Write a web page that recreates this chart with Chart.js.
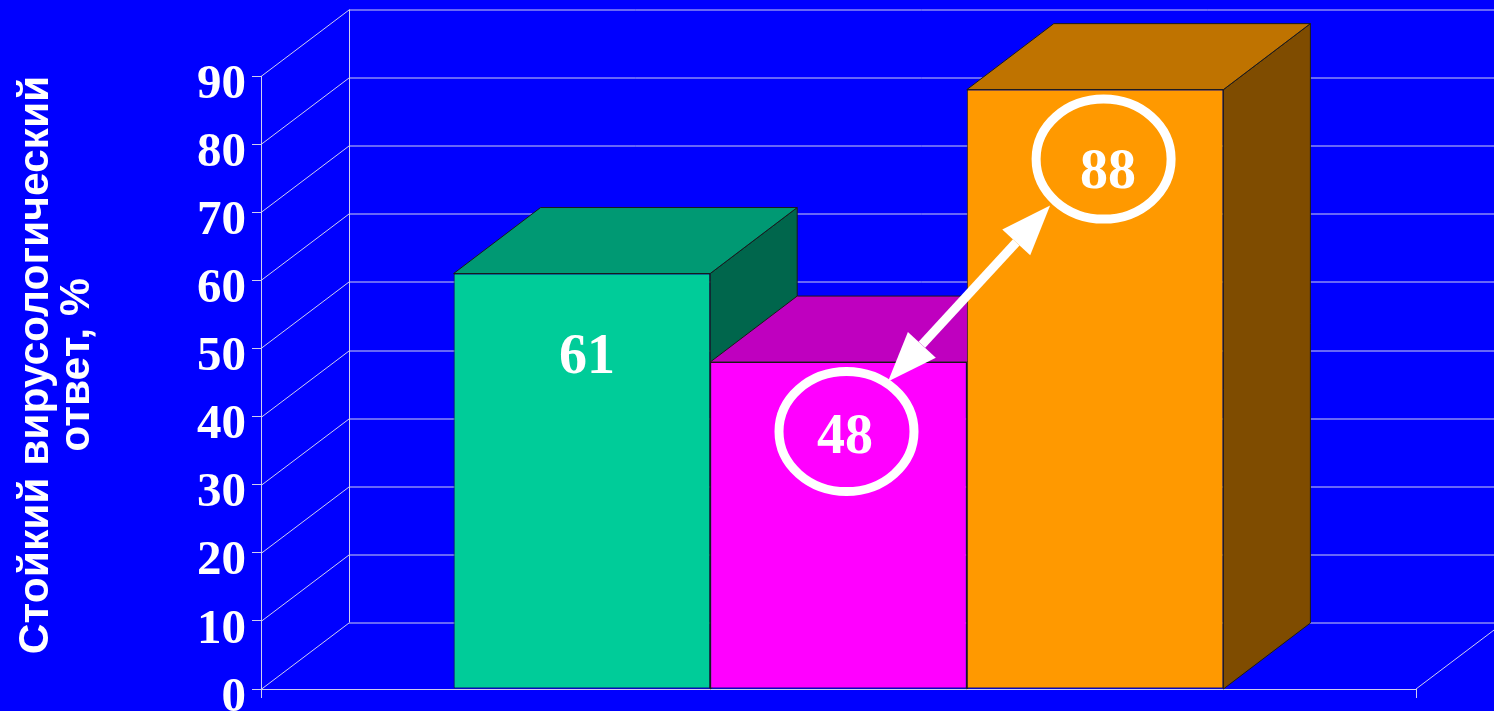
<!DOCTYPE html>
<html lang="ru">
<head>
<meta charset="utf-8">
<title>Стойкий вирусологический ответ</title>
<script src="https://cdn.jsdelivr.net/npm/chart.js@4"></script>
<style>
  html, body { margin: 0; padding: 0; background: #0000ff; overflow: hidden; }
  #wrap { width: 1494px; height: 711px; }
</style>
</head>
<body>
<div id="wrap"><canvas id="svrChart"></canvas></div>
<script>
const categories = [''];
const svrValues = [61, 48, 88];
const yTicks = [0, 10, 20, 30, 40, 50, 60, 70, 80, 90];
const titleLines = ['Стойкий вирусологический', 'ответ, %'];
const frontColors = ['#00cc99', '#ff00ff', '#ff9900'];
const topColors = ['#009973', '#bf00bf', '#bf7300'];
const sideColors = ['#00664c', '#7f007f', '#7f4c00'];

const DEPTH_X = 87, DEPTH_Y = 66;
const GRID = '#cfcfef', EDGE = '#1a1a1a';

function poly(ctx, pts, fill, stroke) {
  ctx.beginPath();
  pts.forEach((p, i) => i ? ctx.lineTo(p[0], p[1]) : ctx.moveTo(p[0], p[1]));
  ctx.closePath();
  if (fill) { ctx.fillStyle = fill; ctx.fill(); }
  if (stroke) { ctx.strokeStyle = stroke; ctx.lineWidth = 1; ctx.stroke(); }
}

// back wall and left wall of the 3D box
const wallsPlugin = {
  id: 'walls',
  beforeDatasetsDraw(chart) {
    const { ctx, chartArea, scales: { y } } = chart;
    const bx = chartArea.left + 88;
    ctx.save();
    ctx.strokeStyle = GRID;
    ctx.lineWidth = 1;
    ctx.beginPath();
    yTicks.forEach(v => {
      const py = Math.round(y.getPixelForValue(v)) + 0.5;
      ctx.moveTo(chartArea.left, py);
      ctx.lineTo(bx, py - 66.5);
      ctx.lineTo(chart.width, py - 66.5);
    });
    ctx.moveTo(bx + 0.5, y.getPixelForValue(90) - 66.5);
    ctx.lineTo(bx + 0.5, y.getPixelForValue(0) - 66.5);
    // right edge of the floor
    ctx.moveTo(chartArea.right, y.getPixelForValue(0));
    ctx.lineTo(chartArea.right + 88, y.getPixelForValue(0) - 66.5);
    ctx.stroke();
    ctx.restore();
  }
};

// top and side faces, painted left to right so nearer bars cover the older ones
const extrudePlugin = {
  id: 'extrude',
  beforeDatasetsDraw(chart) {
    const { ctx, scales: { y } } = chart;
    const base = y.getPixelForValue(0);
    ctx.save();
    svrValues.forEach((v, i) => {
      const bar = chart.getDatasetMeta(i).data[0];
      const l = bar.x - bar.width / 2, r = bar.x + bar.width / 2, t = bar.y;
      poly(ctx, [[r, t], [r + DEPTH_X, t - DEPTH_Y], [r + DEPTH_X, base - DEPTH_Y], [r, base]], sideColors[i], EDGE);
      poly(ctx, [[l, t], [l + DEPTH_X, t - DEPTH_Y], [r + DEPTH_X, t - DEPTH_Y], [r, t]], topColors[i], EDGE);
    });
    ctx.restore();
  }
};

// value labels, the two rings and the double arrow between them
const notesPlugin = {
  id: 'notes',
  afterDatasetsDraw(chart) {
    const { ctx } = chart;
    const bars = svrValues.map((v, i) => chart.getDatasetMeta(i).data[0]);
    const labelShift = [[5, 83], [6.5, 74.5], [13, 81.5]];
    ctx.save();
    ctx.fillStyle = '#fff';
    ctx.font = 'bold 56px "Liberation Serif"';
    ctx.textAlign = 'center';
    ctx.textBaseline = 'middle';
    svrValues.forEach((v, i) => {
      ctx.fillText(String(v), bars[i].x + labelShift[i][0], bars[i].y + labelShift[i][1] + 2);
    });

    const low = { x: bars[1].x + 8, y: bars[1].y + 69.5 };
    const high = { x: bars[2].x + 8.5, y: bars[2].y + 69.5 };
    ctx.strokeStyle = '#fff';
    ctx.lineWidth = 9;
    [low, high].forEach(c => {
      ctx.beginPath();
      ctx.ellipse(c.x, c.y, 67.5, 60, 0, 0, Math.PI * 2);
      ctx.stroke();
    });

    const a = { x: low.x + 41.5, y: low.y - 50 };
    const b = { x: high.x - 53.5, y: high.y + 46.5 };
    const len = Math.hypot(b.x - a.x, b.y - a.y);
    const ux = (b.x - a.x) / len, uy = (b.y - a.y) / len;
    const headLen = 50, headW = 19;
    ctx.lineWidth = 9;
    ctx.beginPath();
    ctx.moveTo(a.x + ux * headLen, a.y + uy * headLen);
    ctx.lineTo(b.x - ux * headLen, b.y - uy * headLen);
    ctx.stroke();
    [[a, 1], [b, -1]].forEach(([tip, s]) => {
      const mx = tip.x + s * ux * headLen, my = tip.y + s * uy * headLen;
      poly(ctx, [[tip.x, tip.y], [mx - uy * headW, my + ux * headW], [mx + uy * headW, my - ux * headW]], '#fff');
    });
    ctx.restore();
  },
  afterDraw(chart) {
    const { ctx } = chart;
    ctx.save();
    ctx.fillStyle = '#fff';
    ctx.font = 'bold 42.5px "Liberation Sans"';
    ctx.textAlign = 'center';
    ctx.textBaseline = 'alphabetic';
    titleLines.forEach((line, i) => {
      ctx.save();
      ctx.translate(48 + i * 41, 365);
      ctx.rotate(-Math.PI / 2);
      ctx.fillText(line, 0, 0);
      ctx.restore();
    });
    ctx.restore();
  }
};

new Chart(document.getElementById('svrChart'), {
  type: 'bar',
  data: {
    labels: categories,
    datasets: svrValues.map((v, i) => ({
      data: [v],
      backgroundColor: frontColors[i],
      borderColor: EDGE,
      borderWidth: 1,
      borderSkipped: false
    }))
  },
  options: {
    responsive: true,
    maintainAspectRatio: false,
    animation: false,
    categoryPercentage: 0.6665,
    barPercentage: 1,
    layout: { padding: { left: 0, right: 78, top: 76, bottom: 13 } },
    plugins: { legend: { display: false }, tooltip: { enabled: false } },
    scales: {
      x: {
        ticks: { display: false },
        grid: { drawOnChartArea: false, offset: true, tickLength: 9, color: GRID },
        border: { color: GRID }
      },
      y: {
        min: 0,
        max: 90,
        afterFit: s => { s.width = 261; s.paddingTop = 0; s.paddingBottom = 0; },
        afterBuildTicks: s => { s.ticks = yTicks.map(value => ({ value })); },
        ticks: {
          autoSkip: false,
          color: '#fff',
          padding: 6,
          labelOffset: 9,
          font: { family: '"Liberation Serif"', size: 49, weight: 'bold' }
        },
        grid: { drawOnChartArea: false, tickLength: 9, color: GRID },
        border: { color: GRID }
      }
    }
  },
  plugins: [wallsPlugin, extrudePlugin, notesPlugin]
});
</script>
</body>
</html>
